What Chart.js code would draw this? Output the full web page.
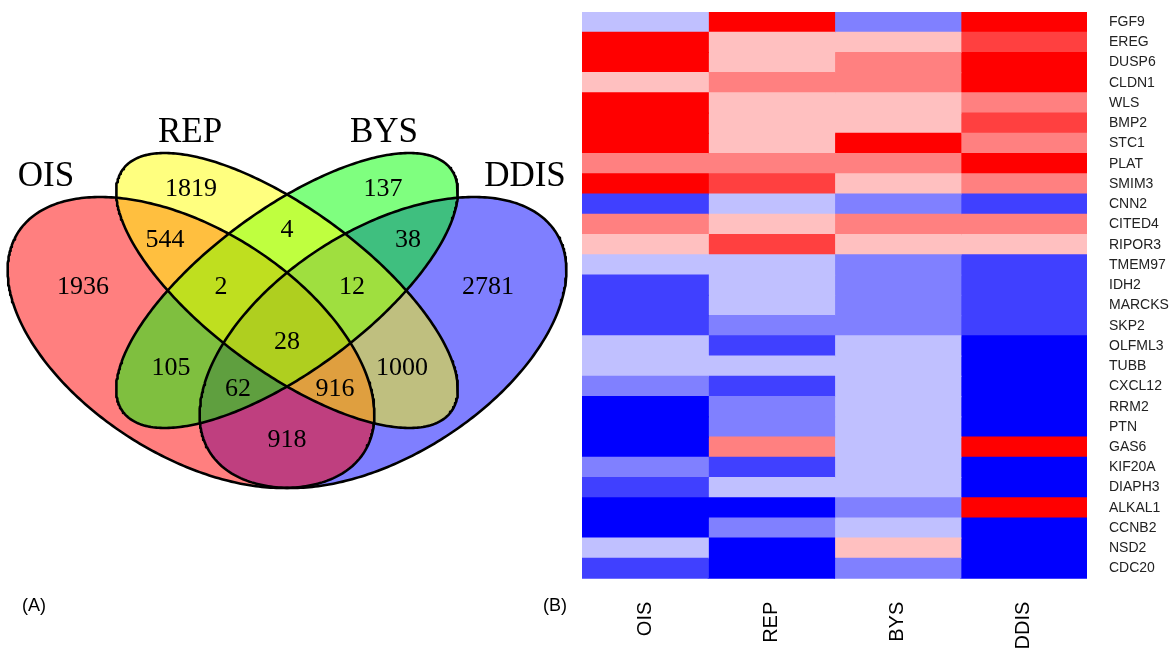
<!DOCTYPE html>
<html>
<head>
<meta charset="utf-8">
<script src="https://cdn.jsdelivr.net/npm/chart.js@4.4.1/dist/chart.umd.min.js"></script>
<style>
  html, body { margin: 0; padding: 0; background: #fff; }
  #wrap { position: relative; width: 1174px; height: 648px; overflow: hidden; background: #fff; }
  canvas { position: absolute; top: 0; }
  #venn { left: 0; }
  #heat { left: 562px; }
  .tag { position: absolute; font: 18px "Liberation Sans", Arial, sans-serif; color: #000; line-height: 1; }
</style>
</head>
<body>
<div id="wrap">
  <canvas id="venn" width="580" height="648"></canvas>
  <canvas id="heat" width="612" height="648"></canvas>
  <div class="tag" style="left:22px; top:596px;">(A)</div>
  <div class="tag" style="left:543px; top:596px;">(B)</div>
</div>
<script>
// ---------- Panel A: four-set Venn diagram ----------
const setNames = ['OIS', 'REP', 'BYS', 'DDIS'];
const setColors = ['rgba(255,0,0,0.5)', 'rgba(255,255,0,0.5)', 'rgba(0,255,0,0.5)', 'rgba(0,0,255,0.5)'];

// region membership and gene counts
const regionNames = [
  'OIS', 'REP', 'BYS', 'DDIS',
  'OIS&REP', 'REP&BYS', 'BYS&DDIS', 'OIS&BYS', 'REP&DDIS', 'OIS&DDIS',
  'OIS&REP&BYS', 'REP&BYS&DDIS', 'OIS&BYS&DDIS', 'OIS&REP&DDIS',
  'OIS&REP&BYS&DDIS'
];
const regionCounts = [1936, 1819, 137, 2781, 544, 4, 38, 105, 1000, 918, 2, 12, 62, 916, 28];

// layout (canvas units): ellipse geometry and label anchors
const ellipseGeom = [
  { cx: 191, cy: 342.5, a: 205, b: 113,  rot: 32.4 },   // OIS
  { cx: 287, cy: 290.5, a: 204, b: 80.4, rot: 36.5 },   // REP
  { cx: 287, cy: 290.5, a: 204, b: 80.4, rot: -36.5 },  // BYS
  { cx: 383, cy: 342.5, a: 205, b: 113,  rot: -32.4 }   // DDIS
];
const drawOrder = [2, 0, 1, 3]; // DDIS underneath, REP on top
const setLabelPos = [[46, 177], [190, 133], [384, 133], [525, 177]];
const regionLabelPos = [
  [83, 287], [191, 189], [383, 189], [488, 287],
  [165, 240], [287, 230], [408, 240], [171, 368], [402, 368], [287, 440],
  [221, 287], [352, 287], [238, 389], [335, 389],
  [287, 342]
];

function ellipseOutline(g, n) {
  const th = g.rot * Math.PI / 180, c = Math.cos(th), s = Math.sin(th);
  const pts = [];
  for (let i = 0; i <= n; i++) {
    const t = 2 * Math.PI * i / n;
    const u = g.a * Math.cos(t), v = g.b * Math.sin(t);
    pts.push({ x: g.cx + u * c - v * s, y: g.cy + u * s + v * c });
  }
  return pts;
}

const vennText = {
  id: 'vennText',
  afterDatasetsDraw(chart) {
    const { ctx, scales: { x, y } } = chart;
    ctx.save();
    ctx.fillStyle = '#000';
    ctx.textAlign = 'center';
    ctx.textBaseline = 'middle';
    ctx.font = '35px "Liberation Serif", "Times New Roman", serif';
    setNames.forEach((name, i) => {
      ctx.fillText(name, x.getPixelForValue(setLabelPos[i][0]), y.getPixelForValue(setLabelPos[i][1]));
    });
    ctx.font = '26px "Liberation Serif", "Times New Roman", serif';
    regionCounts.forEach((n, i) => {
      ctx.fillText(String(n), x.getPixelForValue(regionLabelPos[i][0]), y.getPixelForValue(regionLabelPos[i][1]));
    });
    ctx.restore();
  }
};

new Chart(document.getElementById('venn'), {
  type: 'scatter',
  data: {
    datasets: setNames.map((name, i) => ({
      label: name,
      data: ellipseOutline(ellipseGeom[i], 360),
      showLine: true,
      fill: 'shape',
      backgroundColor: setColors[i],
      borderColor: '#000',
      borderWidth: 2.6,
      borderJoinStyle: 'round',
      pointRadius: 0,
      pointHoverRadius: 0,
      tension: 0,
      order: drawOrder[i]
    }))
  },
  options: {
    responsive: false,
    animation: false,
    layout: { padding: 0 },
    scales: {
      x: { type: 'linear', min: 0, max: 580, display: false },
      y: { type: 'linear', min: 0, max: 648, reverse: true, display: false }
    },
    plugins: {
      legend: { display: false },
      tooltip: { enabled: false },
      filler: { drawTime: 'beforeDatasetsDraw' }
    }
  },
  plugins: [vennText]
});

// ---------- Panel B: expression heatmap ----------
const genes = ['FGF9', 'EREG', 'DUSP6', 'CLDN1', 'WLS', 'BMP2', 'STC1', 'PLAT', 'SMIM3', 'CNN2',
  'CITED4', 'RIPOR3', 'TMEM97', 'IDH2', 'MARCKS', 'SKP2', 'OLFML3', 'TUBB', 'CXCL12', 'RRM2',
  'PTN', 'GAS6', 'KIF20A', 'DIAPH3', 'ALKAL1', 'CCNB2', 'NSD2', 'CDC20'];
const conditions = ['OIS', 'REP', 'BYS', 'DDIS'];

// discretised expression level per gene (positive = up, negative = down)
const ois  = [-1, 4, 4, 1, 4, 4, 4, 2, 4, -3, 2, 1, -1, -3, -3, -3, -1, -1, -2, -4, -4, -4, -2, -3, -4, -4, -1, -3];
const rep  = [ 4, 1, 1, 2, 1, 1, 1, 2, 3, -1, 1, 3, -1, -1, -1, -2, -3, -1, -3, -2, -2, 2, -3, -1, -4, -2, -4, -4];
const bys  = [-2, 1, 2, 2, 1, 1, 4, 2, 1, -2, 2, 1, -2, -2, -2, -2, -1, -1, -1, -1, -1, -1, -1, -1, -2, -1, 1, -2];
const ddis = [ 4, 3, 4, 4, 2, 3, 2, 4, 2, -3, 2, 1, -3, -3, -3, -3, -4, -4, -4, -4, -4, 4, -4, -4, 4, -4, -4, -4];

const levelColors = {
  '4': '#FF0000', '3': '#FF4040', '2': '#FF8080', '1': '#FFC0C0',
  '-1': '#C0C0FF', '-2': '#8080FF', '-3': '#4040FF', '-4': '#0000FF'
};
const columns = [ois, rep, bys, ddis];

new Chart(document.getElementById('heat'), {
  type: 'bar',
  data: {
    labels: genes,
    datasets: conditions.map((c, i) => ({
      label: c,
      data: genes.map(() => 1),
      backgroundColor: columns[i].map(v => levelColors[String(v)]),
      borderWidth: 0,
      barPercentage: 1,
      categoryPercentage: 1,
      inflateAmount: 0.6
    }))
  },
  options: {
    responsive: false,
    animation: false,
    indexAxis: 'y',
    layout: { padding: { left: 20, top: 12, right: 0, bottom: 0 } },
    scales: {
      x: { type: 'linear', stacked: true, min: 0, max: 4, display: false },
      y: {
        type: 'category', stacked: true, position: 'right', offset: true,
        grid: { display: false, drawTicks: false },
        border: { display: false },
        ticks: { padding: 22, autoSkip: false, color: '#222', font: { family: '"Liberation Sans", Arial, sans-serif', size: 14 } },
        afterFit(scale) {
          scale.width = 87;
          scale.paddingTop = 0;
          scale.paddingBottom = 0;
        }
      },
      x2: {
        type: 'category', labels: conditions, position: 'bottom', offset: true,
        grid: { display: false, drawTicks: false },
        border: { display: false },
        ticks: { minRotation: 90, maxRotation: 90, padding: 23, autoSkip: false, color: '#000', font: { family: '"Liberation Sans", Arial, sans-serif', size: 20 } },
        afterFit(scale) { scale.height = 69.3; }
      }
    },
    plugins: { legend: { display: false }, tooltip: { enabled: false } }
  }
});
</script>
</body>
</html>
